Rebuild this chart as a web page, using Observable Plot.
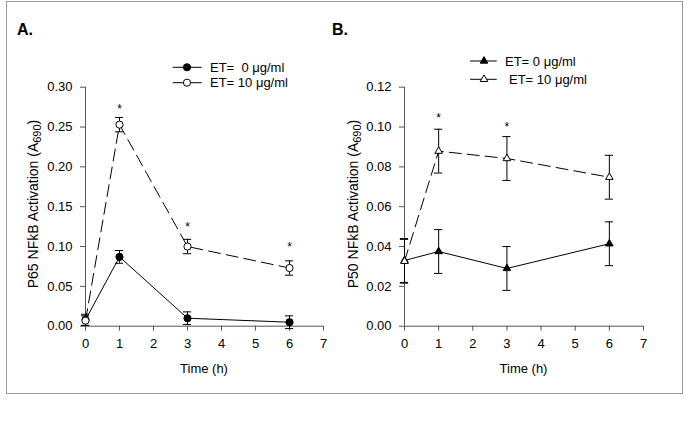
<!DOCTYPE html>
<html>
<head>
<meta charset="utf-8">
<script src="https://cdn.jsdelivr.net/npm/d3@7"></script>
<script src="https://cdn.jsdelivr.net/npm/@observablehq/plot@0.6"></script>
<style>
  html, body { margin: 0; padding: 0; background: #fff; }
  #wrap { position: relative; width: 685px; height: 429px; background: #fff; font-family: "Liberation Sans", Arial, sans-serif; }
  .panel { position: absolute; top: 0; }
  #border { position: absolute; left: 6px; top: 1px; width: 675px; height: 391px; border: 1.5px solid #9a9a9a; box-sizing: content-box; pointer-events: none; }
</style>
</head>
<body>
<div id="wrap">
  <div id="pA" class="panel" style="left:0px;width:330px"></div>
  <div id="pB" class="panel" style="left:330px;width:355px"></div>
  <div id="border"></div>
</div>
<script>
// ---- data ----
const time = [0, 1, 3, 6];
const xTicks = [0, 1, 2, 3, 4, 5, 6, 7];

const p65Ctrl = [0.008, 0.087, 0.010, 0.005];
const p65CtrlErr = [0.007, 0.008, 0.008, 0.008];
const p65ET = [0.007, 0.253, 0.100, 0.073];
const p65ETErr = [0.006, 0.009, 0.009, 0.009];
const yTicksA = [0, 0.05, 0.10, 0.15, 0.20, 0.25, 0.30];
const starTimesA = [1, 3, 6];
const starValuesA = [0.276, 0.128, 0.1035];

const p50Ctrl = [0.033, 0.0375, 0.029, 0.0414];
const p50CtrlErr = [0.011, 0.011, 0.011, 0.011];
const p50ET = [0.0326, 0.0879, 0.0842, 0.0748];
const p50ETErr = [0.011, 0.011, 0.011, 0.011];
const yTicksB = [0, 0.02, 0.04, 0.06, 0.08, 0.10, 0.12];
const starTimesB = [1, 3];
const starValuesB = [0.1058, 0.1013];

const seriesLabelsA = ["ET=  0 \u03bcg/ml", "ET= 10 \u03bcg/ml"];
const seriesLabelsB = ["ET= 0 \u03bcg/ml", "ET= 10 \u03bcg/ml"];

// ---- helpers ----
const rows = (vals, errs) => time.map((t, i) => ({t, v: vals[i], e: errs[i]}));
const CAP = 0.12; // half cap width in x units
const AXIS = "#555";
const FF = "'Liberation Sans', Arial, sans-serif";

function errMarks(data) {
  return [
    Plot.ruleX(data, {x: "t", y1: d => d.v - d.e, y2: d => d.v + d.e, stroke: "#000", strokeWidth: 1}),
    Plot.ruleY(data, {y: d => d.v + d.e, x1: d => d.t - CAP, x2: d => d.t + CAP, stroke: "#000", strokeWidth: 1}),
    Plot.ruleY(data, {y: d => d.v - d.e, x1: d => d.t - CAP, x2: d => d.t + CAP, stroke: "#000", strokeWidth: 1})
  ];
}

function makePanel(opts) {
  const ctrl = rows(opts.ctrl, opts.ctrlErr);
  const et = rows(opts.et, opts.etErr);
  const stars = opts.starTimes.map((t, i) => ({t, v: opts.starValues[i]}));
  const yMax = opts.yTicks[opts.yTicks.length - 1];
  const plot = Plot.plot({
    width: opts.width, height: 400,
    marginLeft: opts.marginLeft, marginRight: opts.marginRight,
    marginTop: 86.7, marginBottom: 74.3,
    style: `font-family: ${FF}; font-size: 13px; color: #000; background: transparent; overflow: visible;`,
    x: {domain: [0, 7]},
    y: {domain: [0, yMax]},
    marks: [
      Plot.axisX({ticks: xTicks, tickSize: 5, tickPadding: 8, label: null, stroke: AXIS, fontSize: 13, tickFormat: d3.format("d")}),
      Plot.axisY({ticks: opts.yTicks, tickSize: 5, tickPadding: 8, label: null, stroke: AXIS, fontSize: 13, tickFormat: d3.format(".2f")}),
      Plot.ruleX([0], {stroke: AXIS, strokeWidth: 1}),
      Plot.ruleY([0], {x1: 0, x2: 7, stroke: AXIS, strokeWidth: 1}),
      // control series
      ...errMarks(ctrl),
      Plot.line(ctrl, {x: "t", y: "v", stroke: "#000", strokeWidth: 1}),
      Plot.dot(ctrl, {x: "t", y: "v", symbol: opts.symbol, r: opts.r, fill: "#000", stroke: "#000", strokeWidth: 1}),
      // ET series
      ...errMarks(et),
      Plot.line(et, {x: "t", y: "v", stroke: "#000", strokeWidth: 1, strokeDasharray: "12,6"}),
      Plot.dot(et, {x: "t", y: "v", symbol: opts.symbol, r: opts.r, fill: "#fff", stroke: "#000", strokeWidth: 1}),
      // significance
      Plot.text(stars, {x: "t", y: "v", text: () => "*", fontSize: 12, dy: 3, fill: "#000"})
    ]
  });
  const svg = d3.select(plot);
  // panel label
  svg.append("text").attr("x", opts.labelX).attr("y", 35).attr("font-family", FF).attr("text-anchor", "start")
    .attr("font-size", 16).attr("font-weight", "bold").attr("fill", "#000").text(opts.panelLabel);
  // y title with subscript
  const yt = svg.append("text")
    .attr("transform", `translate(${opts.yTitleX},204) rotate(-90)`)
    .attr("text-anchor", "middle").attr("font-family", FF).attr("font-size", 14).attr("fill", "#000");
  yt.append("tspan").text(opts.yTitle + " (A");
  yt.append("tspan").attr("font-size", 11).attr("dy", 3).text("690");
  yt.append("tspan").attr("dy", -3).text(")");
  // x title
  const x0 = opts.marginLeft, x7 = opts.width - opts.marginRight;
  svg.append("text").attr("x", (x0 + x7) / 2).attr("y", 372.5).attr("text-anchor", "middle")
    .attr("font-family", FF).attr("font-size", 13).attr("fill", "#000").text("Time (h)");
  // legend
  const L = opts.legend;
  opts.legendLabels.forEach((lab, i) => {
    const y = L.rows[i];
    svg.append("line").attr("x1", L.x1).attr("x2", L.x2).attr("y1", y).attr("y2", y)
      .attr("stroke", "#000").attr("stroke-width", 1);
    const sym = d3.symbol(opts.symbol === "triangle" ? d3.symbolTriangle : d3.symbolCircle, opts.r * opts.r * Math.PI)();
    svg.append("path").attr("d", sym).attr("transform", `translate(${L.mx},${y})`)
      .attr("fill", i === 0 ? "#000" : "#fff").attr("stroke", "#000").attr("stroke-width", 1);
    svg.append("text").attr("x", L.tx[i]).attr("y", y + 4.6).attr("text-anchor", "start")
      .attr("font-family", FF).attr("font-size", 13)
      .attr("fill", "#000").style("white-space", "pre").text(lab);
  });
  return plot;
}

document.getElementById("pA").appendChild(makePanel({
  width: 330, marginLeft: 85, marginRight: 7,
  ctrl: p65Ctrl, ctrlErr: p65CtrlErr, et: p65ET, etErr: p65ETErr,
  yTicks: yTicksA, starTimes: starTimesA, starValues: starValuesA,
  symbol: "circle", r: 3.6, panelLabel: "A.", labelX: 17,
  yTitle: "P65 NFkB Activation", yTitleX: 38,
  legendLabels: seriesLabelsA,
  legend: {x1: 172.7, x2: 201.7, mx: 187, tx: [210, 210], rows: [67.3, 82.7]}
}));

document.getElementById("pB").appendChild(makePanel({
  width: 355, marginLeft: 74, marginRight: 42,
  ctrl: p50Ctrl, ctrlErr: p50CtrlErr, et: p50ET, etErr: p50ETErr,
  yTicks: yTicksB, starTimes: starTimesB, starValues: starValuesB,
  symbol: "triangle", r: 2.8, panelLabel: "B.", labelX: 2,
  yTitle: "P50 NFkB Activation", yTitleX: 28,
  legendLabels: seriesLabelsB,
  legend: {x1: 140, x2: 166.7, mx: 154, tx: [175, 179], rows: [61, 79.3]}
}));
</script>
</body>
</html>
